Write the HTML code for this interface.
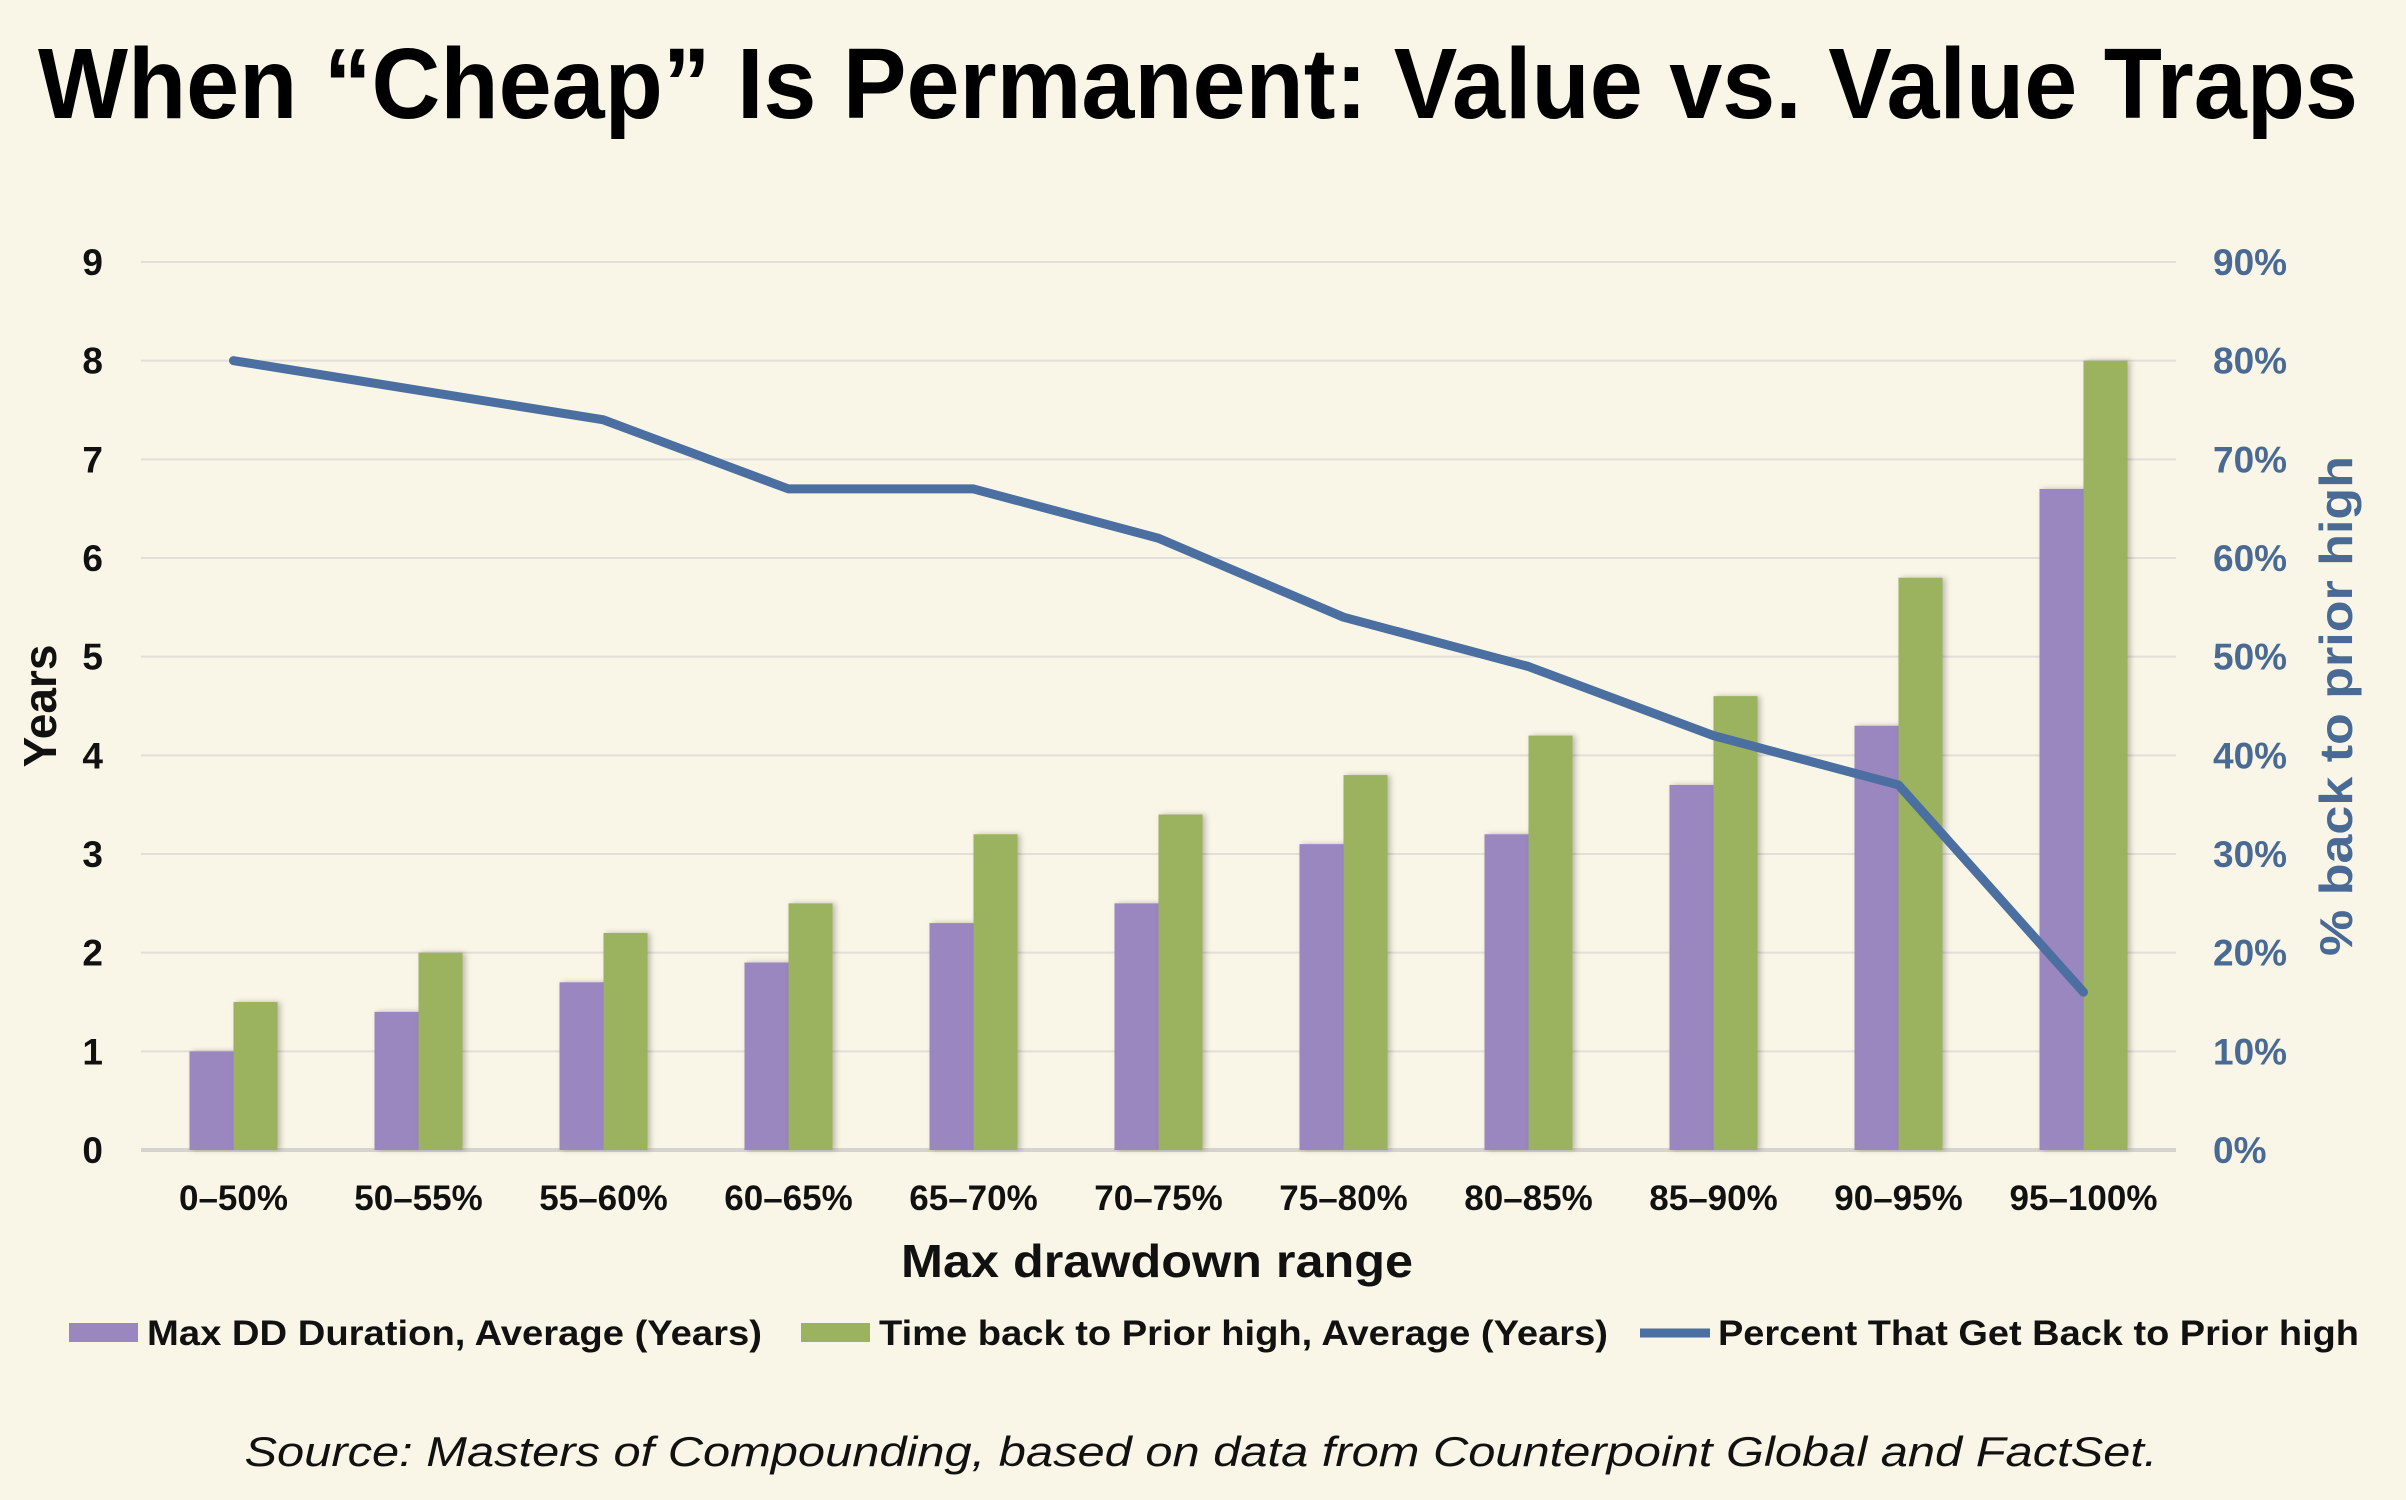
<!DOCTYPE html>
<html><head><meta charset="utf-8"><style>
html,body{margin:0;padding:0;background:#FAF6E7;}
svg{display:block;font-family:"Liberation Sans",Arial,sans-serif;}
</style></head><body>
<svg id="chart" width="2406" height="1500" viewBox="0 0 2406 1500">
<defs><filter id="sh" x="-20%" y="-5%" width="150%" height="110%"><feDropShadow dx="3" dy="0" stdDeviation="3" flood-color="#000" flood-opacity="0.25"/></filter></defs>
<rect width="2406" height="1500" fill="#FAF6E7"/>
<text x="1198" y="118" text-anchor="middle" font-size="100" font-weight="bold" fill="#000" textLength="2320" lengthAdjust="spacingAndGlyphs">When “Cheap” Is Permanent: Value vs. Value Traps</text>
<g id="grid"></g>
<g id="bars"></g>
<g id="line"></g>
<g id="axes"></g>
<text transform="translate(56,706) rotate(-90)" text-anchor="middle" font-size="46" font-weight="bold" fill="#111">Years</text>
<text transform="translate(2352,706) rotate(-90)" text-anchor="middle" font-size="46" font-weight="bold" fill="#4A6A96" textLength="500" lengthAdjust="spacingAndGlyphs">% back to prior high</text>
<text x="1157" y="1277" text-anchor="middle" font-size="46" font-weight="bold" fill="#111" textLength="512" lengthAdjust="spacingAndGlyphs">Max drawdown range</text>
<g>
<rect x="69" y="1323" width="69" height="19" fill="#9B87C0"/>
<text x="147" y="1345" font-size="35" font-weight="bold" fill="#111" textLength="615" lengthAdjust="spacingAndGlyphs">Max DD Duration, Average (Years)</text>
<rect x="801" y="1323" width="69" height="19" fill="#9BB25E"/>
<text x="879" y="1345" font-size="35" font-weight="bold" fill="#111" textLength="729" lengthAdjust="spacingAndGlyphs">Time back to Prior high, Average (Years)</text>
<line x1="1640" y1="1333" x2="1710" y2="1333" stroke="#4A6FA0" stroke-width="9"/>
<text x="1718" y="1345" font-size="35" font-weight="bold" fill="#111" textLength="641" lengthAdjust="spacingAndGlyphs">Percent That Get Back to Prior high</text>
</g>
<text x="1201" y="1466" text-anchor="middle" font-size="42" font-style="italic" fill="#111" textLength="1913" lengthAdjust="spacingAndGlyphs">Source: Masters of Compounding, based on data from Counterpoint Global and FactSet.</text>
</svg>
<script>
const categories = ["0–50%","50–55%","55–60%","60–65%","65–70%","70–75%","75–80%","80–85%","85–90%","90–95%","95–100%"];
const maxDD = [1.0,1.4,1.7,1.9,2.3,2.5,3.1,3.2,3.7,4.3,6.7];
const timeBack = [1.5,2.0,2.2,2.5,3.2,3.4,3.8,4.2,4.6,5.8,8.0];
const pctBack = [80,77,74,67,67,62,54,49,42,37,16];
const leftTicks = [0,1,2,3,4,5,6,7,8,9];
const rightTicks = ["0%","10%","20%","30%","40%","50%","60%","70%","80%","90%"];

const NS = "http://www.w3.org/2000/svg";
const X0 = 141, X1 = 2176, Y0 = 1150, Y9 = 262;
const band = (X1 - X0) / categories.length;
const yL = v => Y0 - (v / 9) * (Y0 - Y9);
const yR = p => Y0 - (p / 90) * (Y0 - Y9);
const xC = i => X0 + band * (i + 0.5);
const bw = 44;
function mk(tag, attrs, parent){const e=document.createElementNS(NS,tag);for(const k in attrs)e.setAttribute(k,attrs[k]);parent.appendChild(e);return e;}
const grid=document.getElementById('grid'), bars=document.getElementById('bars'), line=document.getElementById('line'), axes=document.getElementById('axes');

leftTicks.forEach((t,i)=>{
  const y=yL(t);
  const g=mk('line',{x1:X0,x2:X1,y1:y,y2:y,stroke:i===0?'#D6D3CE':'#E2DED8','stroke-width':i===0?4:2},grid);
  
  
  const tl=mk('text',{x:103,y:y+13,'text-anchor':'end','font-size':37,'font-weight':'bold',fill:'#111'},axes);
  tl.textContent=t;
  
  
  const tr=mk('text',{x:2213,y:y+13,'font-size':37,'font-weight':'bold',fill:'#4A6A96'},axes);
  tr.textContent=rightTicks[i];
  
  
});
categories.forEach((c,i)=>{
  const cx=xC(i);
  const b1=mk('rect',{x:cx-bw,y:yL(maxDD[i]),width:bw,height:Y0-yL(maxDD[i]),fill:'#9B87C0',filter:'url(#sh)'},bars);
  
  
  const b2=mk('rect',{x:cx,y:yL(timeBack[i]),width:bw,height:Y0-yL(timeBack[i]),fill:'#9BB25E',filter:'url(#sh)'},bars);
  
  
  const tx=mk('text',{x:cx,y:1210,'text-anchor':'middle','font-size':35,'font-weight':'bold',fill:'#111'},axes);
  tx.textContent=c;
  
  
});
const pts=pctBack.map((p,i)=>xC(i)+','+yR(p)).join(' ');
const pl=mk('polyline',{points:pts,fill:'none',stroke:'#4A6FA0','stroke-width':9,'stroke-linejoin':'round','stroke-linecap':'round'},line);


</script>
</body></html>
